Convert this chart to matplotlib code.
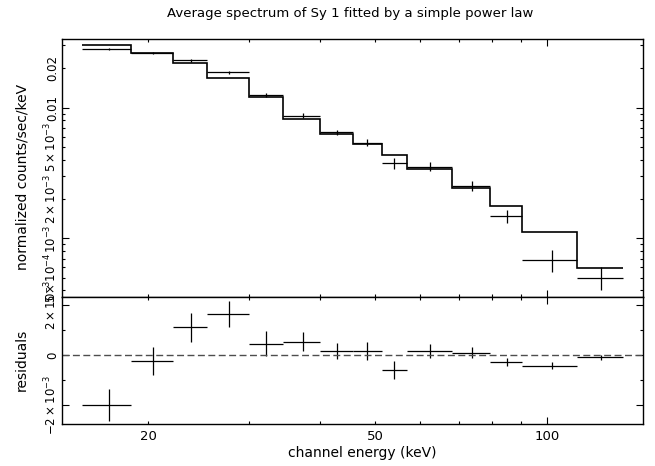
import numpy as np
import matplotlib
matplotlib.use('Agg')
import matplotlib.pyplot as plt

plt.rcParams['font.family'] = 'DejaVu Sans'
plt.rcParams['mathtext.default'] = 'regular'

# bin edges (keV) and bin centres
edges = [15.3, 18.7, 22.1, 25.4, 30.0, 34.4, 40.0, 45.7, 51.3, 56.9, 68.1, 79.4, 90.5, 113.0, 135.7]
centers = [17.1, 20.4, 23.8, 27.7, 32.2, 37.3, 42.8, 48.4, 54.0, 62.4, 73.8, 85.0, 101.9, 124.3]

# normalized counts/sec/keV
flux = [0.0282, 0.02616, 0.0230, 0.01863, 0.01254, 0.00868, 0.00646, 0.00540,
        0.00374, 0.00354, 0.00253, 0.00149, 0.00068, 0.000499]
model = [0.0302, 0.0264, 0.0219, 0.0170, 0.0121, 0.00815, 0.00630, 0.00524,
         0.00434, 0.00338, 0.00244, 0.00178, 0.00111, 0.000589]
err = [0.63e-3, 0.57e-3, 0.58e-3, 0.53e-3, 0.50e-3, 0.37e-3, 0.33e-3, 0.35e-3,
       0.37e-3, 0.27e-3, 0.21e-3, 0.17e-3, 0.13e-3, 0.10e-3]
resid = [-2.0e-3, -0.24e-3, 1.11e-3, 1.63e-3, 0.44e-3, 0.53e-3, 0.16e-3, 0.16e-3,
         -0.60e-3, 0.16e-3, 0.09e-3, -0.29e-3, -0.43e-3, -0.09e-3]

edges = np.array(edges)
centers = np.array(centers)
xerr = [centers - edges[:-1], edges[1:] - centers]

fig = plt.figure(figsize=(6.55, 4.66), dpi=100)
ax1 = fig.add_axes([0.0947, 0.3627, 0.887, 0.5536])
ax2 = fig.add_axes([0.0947, 0.0901, 0.887, 0.2726], sharex=ax1)

# top panel: data crosses + model histogram
ax1.errorbar(centers, flux, xerr=xerr, yerr=err, fmt='none', ecolor='k', elinewidth=0.9)
ax1.stairs(model, edges, baseline=None, color='k', linewidth=1.2)
ax1.set_xscale('log')
ax1.set_yscale('log')
ax1.set_xlim(14.13, 147.3)
ax1.set_ylim(3.553e-4, 0.03357)

ax1.set_yticks([1e-3, 1e-2], [r'$10^{-3}$', '0.01'])
ymin = [4e-4, 5e-4, 6e-4, 7e-4, 8e-4, 9e-4, 2e-3, 3e-3, 4e-3, 5e-3, 6e-3, 7e-3, 8e-3, 9e-3, 2e-2, 3e-2]
ymin_lab = ['', r'$5\times10^{-4}$', '', '', '', '', r'$2\times10^{-3}$', '', '', r'$5\times10^{-3}$',
            '', '', '', '', '0.02', '']
ax1.set_yticks(ymin, ymin_lab, minor=True)

# bottom panel: residuals
ax2.errorbar(centers, resid, xerr=xerr, yerr=err, fmt='none', ecolor='k', elinewidth=0.9)
ax2.axhline(0, color='0.3', linewidth=1.0, linestyle=(0, (5, 2.5)))
ax2.set_ylim(-2.76e-3, 2.32e-3)
ax2.set_yticks([-2e-3, 0, 2e-3], [r'$-2\times10^{-3}$', '0', r'$2\times10^{-3}$'])
ax2.set_yticks([-1e-3, 1e-3], ['', ''], minor=True)

ax2.set_xticks([100], ['100'])
ax2.set_xticks([20, 30, 40, 50, 60, 70, 80, 90],
               ['20', '', '', '50', '', '', '', ''], minor=True)

for ax in (ax1, ax2):
    ax.tick_params(which='both', direction='in', top=True, right=True, labelsize=9.5)
    ax.tick_params(which='major', length=5, width=0.8)
    ax.tick_params(which='minor', length=2.5, width=0.8)
    ax.tick_params(axis='y', which='both', labelrotation=90, pad=2, labelsize=8.5)
    ax.tick_params(axis='x', which='both', pad=4)
    for s in ax.spines.values():
        s.set_linewidth(1.0)
for lab in ax1.get_yticklabels(which='both') + ax2.get_yticklabels(which='both'):
    lab.set_va('center')
ax1.tick_params(axis='x', which='both', labelbottom=False)

fig.text(0.534, 0.972, 'Average spectrum of Sy 1 fitted by a simple power law',
         ha='center', va='center', fontsize=9.5)
fig.text(0.553, 0.028, 'channel energy (keV)', ha='center', va='center', fontsize=10)
fig.text(0.0336, 0.620, 'normalized counts/sec/keV', rotation=90, ha='center', va='center', fontsize=10)
fig.text(0.0336, 0.2275, 'residuals', rotation=90, ha='center', va='center', fontsize=10)

fig.savefig('out.png', dpi=100)
